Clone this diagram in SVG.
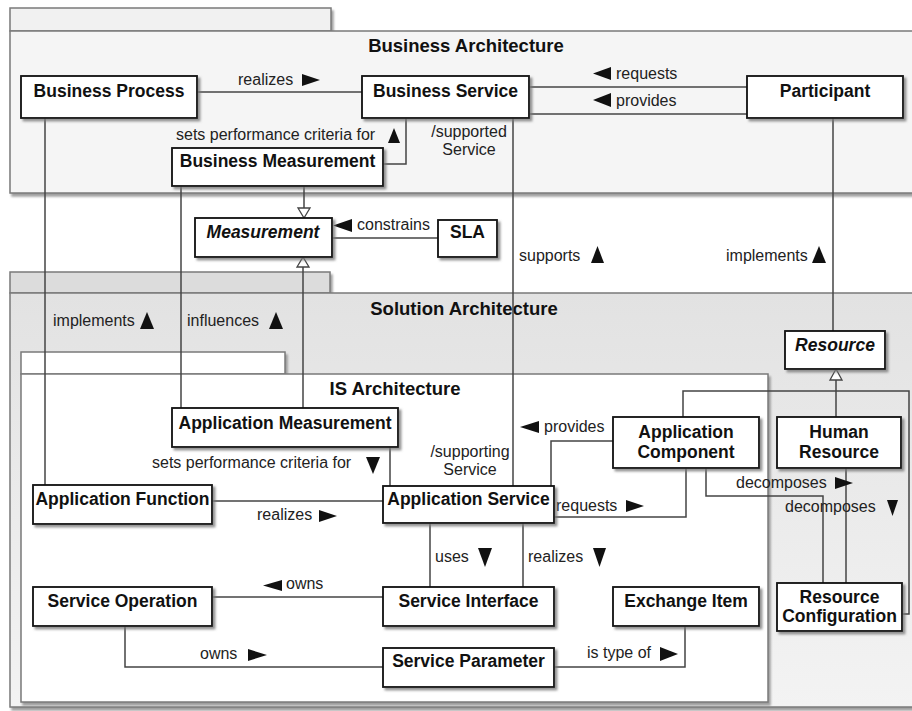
<svg xmlns="http://www.w3.org/2000/svg" width="912" height="711" viewBox="0 0 912 711">
<defs>
<style>
.pkg{stroke:#7a7a7a;stroke-width:1.5}
.node rect{fill:#fff;stroke:#111;stroke-width:1.8;filter:url(#sh)}
.node text{font-family:"Liberation Sans",Arial,sans-serif;font-weight:bold;font-size:17.5px;fill:#111;text-anchor:middle}
.node text.it{font-style:italic}
.title{font-family:"Liberation Sans",Arial,sans-serif;font-weight:bold;font-size:18.5px;fill:#111;text-anchor:middle}
.conn path{fill:none;stroke:#444;stroke-width:1.5}
.conn polygon.gen{fill:#fff;stroke:#444;stroke-width:1.3}
.lbl text{font-family:"Liberation Sans",Arial,sans-serif;font-size:16px;fill:#222}
.lbl polygon{fill:#111}
</style>
<filter id="sh" x="-10%" y="-10%" width="130%" height="140%">
<feDropShadow dx="2.5" dy="2.5" stdDeviation="1.2" flood-color="#777" flood-opacity="0.8"/>
</filter>
<filter id="psh" x="-5%" y="-5%" width="110%" height="115%">
<feDropShadow dx="2" dy="3" stdDeviation="1.2" flood-color="#888" flood-opacity="0.8"/>
</filter>
<linearGradient id="solg" x1="0" y1="0" x2="0" y2="1">
<stop offset="0" stop-color="#e2e2e2"/>
<stop offset="1" stop-color="#f3f3f3"/>
</linearGradient>
</defs>
<rect width="912" height="711" fill="#fff"/>

<g id="pkg-business">
<rect class="pkg" x="10" y="8" width="321" height="23" fill="#f1f1f1" filter="url(#psh)"/>
<rect class="pkg" x="10" y="31" width="906" height="162" fill="#f5f5f5" filter="url(#psh)"/>
<text class="title" x="466" y="52">Business Architecture</text>
</g>

<g id="pkg-solution">
<rect class="pkg" x="10" y="272" width="320" height="21" fill="#dcdcdc" filter="url(#psh)"/>
<rect class="pkg" x="10" y="293" width="906" height="414" fill="url(#solg)" filter="url(#psh)"/>
<text class="title" x="464" y="315">Solution Architecture</text>
</g>

<g id="pkg-is">
<rect class="pkg" x="21" y="352" width="264" height="22" fill="#fff" filter="url(#psh)"/>
<rect class="pkg" x="21" y="374" width="747" height="328" fill="#fff" filter="url(#psh)"/>
<text class="title" x="395" y="395">IS Architecture</text>
</g>

<g id="connectors" class="conn">
<path d="M197,92 H362"/>
<path d="M529,87 H747"/>
<path d="M529,114 H747"/>
<path d="M383,164 H406 V118"/>
<path d="M513,118 V486"/>
<path d="M833,118 V331"/>
<path d="M304,186 V208"/>
<polygon class="gen" points="298,208 310,208 304,218"/>
<path d="M438,238 H332"/>
<path d="M303,408 V267"/>
<polygon class="gen" points="297,267 309,267 303,257"/>
<path d="M45,118 V485"/>
<path d="M181,186 V408"/>
<path d="M390,447 V486"/>
<path d="M212,501 H383"/>
<path d="M613,441 H551 V486"/>
<path d="M554,517 H686 V468"/>
<path d="M430,523 V587"/>
<path d="M523,523 V587"/>
<path d="M212,597 H383"/>
<path d="M125,626 V667 H383"/>
<path d="M685,626 V667 H554"/>
<path d="M706,468 V496 H823 V583"/>
<path d="M846,468 V583"/>
<path d="M683,417 V391 H909 V614 H902"/>
<path d="M836,417 V380"/>
<polygon class="gen" points="830,380 842,380 836,369"/>
</g>

<g id="labels" class="lbl">
<text x="238" y="85">realizes</text><polygon points="302,74 320,80 302,86"/>
<text x="176" y="140">sets performance criteria for</text><polygon points="388,143 394,128 400,143"/>
<text x="469" y="137" text-anchor="middle">/supported</text>
<text x="469" y="155" text-anchor="middle">Service</text>
<polygon points="611,67 593,73.5 611,80"/><text x="616" y="79">requests</text>
<polygon points="611,93 593,100 611,107"/><text x="616" y="106">provides</text>
<polygon points="352,219 333,225.5 352,232"/><text x="357" y="230">constrains</text>
<text x="519" y="261">supports</text><polygon points="591,263 597.5,246 604,263"/>
<text x="726" y="261">implements</text><polygon points="812,263 819,246 826,263"/>
<text x="53" y="326">implements</text><polygon points="140,329 147,312 154,329"/>
<text x="187" y="326">influences</text><polygon points="269,329 276,312 283,329"/>
<text x="152" y="468">sets performance criteria for</text><polygon points="366,457 380,457 373,474"/>
<text x="470" y="457" text-anchor="middle">/supporting</text>
<text x="470" y="475" text-anchor="middle">Service</text>
<polygon points="539,421 520,427 539,433"/><text x="544" y="432">provides</text>
<text x="556" y="511">requests</text><polygon points="626,500 644,506 626,512"/>
<text x="257" y="520">realizes</text><polygon points="319,510 337,516 319,522"/>
<text x="435" y="562">uses</text><polygon points="478,548 492,548 485,567"/>
<text x="528" y="562">realizes</text><polygon points="593,548 606,548 599.5,567"/>
<polygon points="282,580 263,585.5 282,591"/><text x="286" y="589">owns</text>
<text x="200" y="659">owns</text><polygon points="248,649 267,655 248,661"/>
<text x="587" y="658">is type of</text><polygon points="660,647 678,654 660,661"/>
<text x="736" y="488" fill="#333">decomposes</text><polygon points="835,477 853,483 835,489"/>
<text x="785" y="512" fill="#333">decomposes</text><polygon points="887,500 898,500 892.5,516"/>
</g>

<g id="node-business-process" class="node"><rect x="21" y="76" width="176" height="42"/><text x="109" y="97">Business Process</text></g>
<g id="node-business-service" class="node"><rect x="362" y="76" width="167" height="42"/><text x="445.5" y="97">Business Service</text></g>
<g id="node-participant" class="node"><rect x="747" y="76" width="156" height="42"/><text x="825" y="97">Participant</text></g>
<g id="node-business-measurement" class="node"><rect x="172" y="148" width="211" height="38"/><text x="277.5" y="167">Business Measurement</text></g>
<g id="node-measurement" class="node"><rect x="195" y="218" width="137" height="39"/><text class="it" x="263" y="238">Measurement</text></g>
<g id="node-sla" class="node"><rect x="438" y="220" width="59" height="37"/><text x="467.5" y="238">SLA</text></g>
<g id="node-resource" class="node"><rect x="785" y="331" width="100" height="38"/><text class="it" x="835" y="351">Resource</text></g>
<g id="node-application-measurement" class="node"><rect x="172" y="408" width="226" height="39"/><text x="285" y="429">Application Measurement</text></g>
<g id="node-application-component" class="node"><rect x="613" y="417" width="146" height="51"/><text x="686" y="438">Application</text><text x="686" y="458">Component</text></g>
<g id="node-human-resource" class="node"><rect x="777" y="417" width="124" height="51"/><text x="839" y="438">Human</text><text x="839" y="458">Resource</text></g>
<g id="node-application-function" class="node"><rect x="33" y="485" width="179" height="39"/><text x="122.5" y="505">Application Function</text></g>
<g id="node-application-service" class="node"><rect x="383" y="486" width="171" height="37"/><text x="468.5" y="505">Application Service</text></g>
<g id="node-service-operation" class="node"><rect x="33" y="587" width="179" height="39"/><text x="122.5" y="607">Service Operation</text></g>
<g id="node-service-interface" class="node"><rect x="383" y="587" width="171" height="39"/><text x="468.5" y="607">Service Interface</text></g>
<g id="node-exchange-item" class="node"><rect x="613" y="587" width="146" height="39"/><text x="686" y="607">Exchange Item</text></g>
<g id="node-service-parameter" class="node"><rect x="383" y="648" width="171" height="39"/><text x="468.5" y="667">Service Parameter</text></g>
<g id="node-resource-configuration" class="node"><rect x="777" y="583" width="125" height="48"/><text x="839.5" y="603">Resource</text><text x="839.5" y="622">Configuration</text></g>
</svg>
